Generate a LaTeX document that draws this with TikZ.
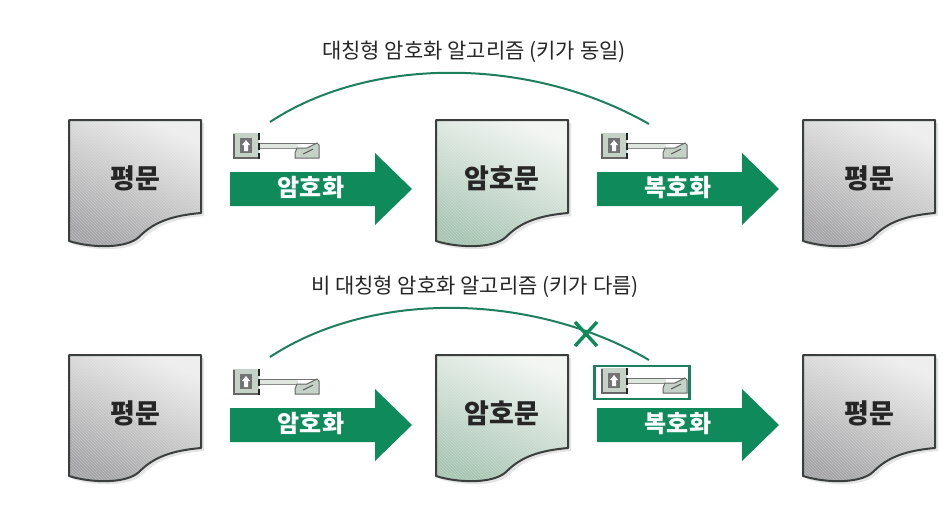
\documentclass[tikz,border=0pt]{standalone}
\usepackage{fontspec}
\newfontfamily\krfont{Noto Sans CJK KR}
\usetikzlibrary{patterns}
\definecolor{grn}{HTML}{0F8A5A}
\definecolor{arcgrn}{HTML}{1E7F5C}
\definecolor{dkline}{HTML}{3A3F3E}
\definecolor{keyfill}{HTML}{C4D2C8}
\definecolor{keypale}{HTML}{DDE6DF}
\definecolor{greentop}{HTML}{F2F5F2}
\definecolor{greenbot}{HTML}{A6C4B2}
\definecolor{graytop}{HTML}{EDEDED}
\definecolor{graybot}{HTML}{A4A4A6}
\tikzset{
 x=1pt,y=-1pt,
 doclabel/.style={font=\krfont\fontsize{27}{27}\selectfont\bfseries,text=black!85,inner sep=0pt},
 arrowlabel/.style={font=\krfont\fontsize{24}{24}\selectfont\bfseries,text=white,inner sep=0pt},
 titlelabel/.style={font=\krfont\fontsize{21}{23}\selectfont,text=black!85,inner sep=0pt},
 graydoc/.style={top color=graytop,bottom color=graybot,shading angle=-25},
 greendoc/.style={top color=greentop,bottom color=greenbot,shading angle=-25},
 bigarrow/.style={fill=grn,draw=none},
 arcline/.style={draw=arcgrn,line width=2pt},
 hatch/.style={pattern=north west lines,pattern color=white,opacity=.25},
 docedge/.style={draw=dkline,line width=2pt,line join=round},
}
\newcommand{\docoutline}[2]{(#1,#2) -- (#1+132,#2) -- (#1+132,#2+93) .. controls (#1+97,#2+96) and (#1+82,#2+105) .. (#1+70,#2+117) .. controls (#1+57,#2+129) and (#1+22,#2+128) .. (#1,#2+121) -- cycle}
\newcommand{\docshape}[4]{% x y style name
 \fill[black!35,opacity=.3] (#1+3,#2+3) -- (#1+135,#2+3) -- (#1+135,#2+96) .. controls (#1+100,#2+99) and (#1+85,#2+108) .. (#1+73,#2+120) .. controls (#1+60,#2+132) and (#1+25,#2+131) .. (#1+3,#2+124) -- cycle;
 \path[#3] \docoutline{#1}{#2};
 \path[hatch] \docoutline{#1}{#2};
 \path[docedge] \docoutline{#1}{#2};
 \node[doclabel] (#4) at (#1+66,#2+58) {\krfont #4};
}
\newcommand{\arrowshape}[4]{% x y label name
 \fill[bigarrow] (#1,#2+19) -- (#1+145,#2+19) -- (#1+145,#2) -- (#1+182,#2+36) -- (#1+145,#2+72) -- (#1+145,#2+53) -- (#1,#2+53) -- cycle;
 \node[arrowlabel] (#4) at (#1+81,#2+35) {\krfont #3};
}
\newcommand{\keyshape}[2]{% x y
 \fill[keyfill] (#1,#2) rectangle (#1+26,#2+26);
 \draw[black!60,line width=1.2pt] (#1+1,#2+1) -- (#1+1,#2+25) -- (#1+25,#2+25);
 \draw[black!85,line width=2pt,dash pattern=on 7pt off 3pt] (#1+26,#2) -- (#1+26,#2+26);
 \fill[black!55] (#1+7,#2+5) rectangle (#1+19,#2+20);
 \fill[white] (#1+13,#2+7) -- (#1+17,#2+12) -- (#1+15,#2+12) -- (#1+15,#2+18) -- (#1+11,#2+18) -- (#1+11,#2+12) -- (#1+9,#2+12) -- cycle;
 \fill[keypale] (#1+27,#2+10) rectangle (#1+65,#2+15);
 \draw[black!55,line width=1pt] (#1+27,#2+10) -- (#1+84,#2+10);
 \draw[black!45,line width=1pt] (#1+27,#2+15) -- (#1+64,#2+15);
 \path[fill=keyfill,draw=black!60,line width=1pt] (#1+64,#2+15) -- (#1+74,#2+15) -- (#1+84,#2+10) -- (#1+86,#2+12) -- (#1+86,#2+25) -- (#1+62,#2+25) -- (#1+62,#2+20) -- cycle;
 \draw[black!70,line width=.9pt] (#1+70,#2+21) -- (#1+80,#2+16);
}
\begin{document}
\begin{tikzpicture}
\useasboundingbox (0,0) rectangle (950,527);
\fill[white] (0,0) rectangle (950,527);
% top row
\docshape{69}{120}{graydoc}{평문}
\docshape{436}{120}{greendoc}{암호문}
\docshape{803}{120}{graydoc}{평문}
\arrowshape{230}{153}{암호화}{암호화}
\arrowshape{597}{153}{복호화}{복호화}
\keyshape{233}{133}
\keyshape{601}{133}
\node[titlelabel] (t1) at (474,52) {대칭형 암호화 알고리즘 (키가 동일)};
\coordinate (a1) at (270,122);
\coordinate (b1) at (649,124);
\draw[arcline] (a1) .. controls (370,56) and (530,56) .. (b1);
% bottom row
\docshape{69}{355}{graydoc}{평문}
\docshape{436}{355}{greendoc}{암호문}
\docshape{803}{355}{graydoc}{평문}
\arrowshape{230}{389}{암호화}{암호화2}
\arrowshape{597}{389}{복호화}{복호화2}
\keyshape{233}{369}
\keyshape{601}{368}
\node[draw=arcgrn,line width=2.2pt,minimum width=95pt,minimum height=33pt,inner sep=0pt] (box) at (642,382.5) {};
\node[titlelabel] (t2) at (475,287) {비 대칭형 암호화 알고리즘 (키가 다름)};
\coordinate (a2) at (270,357);
\coordinate (b2) at (649,360);
\draw[arcline] (a2) .. controls (370,291) and (530,291) .. (b2);
\draw[grn,line width=3.4pt] (575,322) -- (597,346);
\draw[grn,line width=3.4pt] (597,322) -- (575,346);
\end{tikzpicture}
\end{document}
